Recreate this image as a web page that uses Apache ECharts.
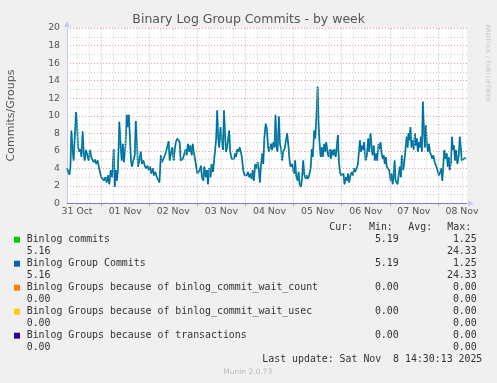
<!DOCTYPE html>
<html><head><meta charset="utf-8">
<script src="https://cdn.jsdelivr.net/npm/echarts@6/dist/echarts.min.js"></script>
<style>html,body{margin:0;padding:0;background:#f0f0f0}#c{width:497px;height:383px}</style>
</head><body><div id="c"></div><script>
// hours since 31 Oct 00:00
const hours = [
7.0,7.8,8.2,8.7,9.2,9.7,10.3,10.8,11.5,12.0,12.5,13.2,13.7,14.2,14.8,15.3,15.8,16.5,17.1,17.8,18.5,19.1,19.8,20.3,21.0,21.6,22.3,23.0,23.6,24.1,24.8,25.4,26.1,26.8,27.4,28.1,28.8,29.4,29.8,30.3,30.8,31.4,31.9,32.4,33.1,33.8,34.3,34.8,35.4,36.1,36.8,37.3,37.8,38.3,38.9,39.4,40.1,40.8,41.3,42.0,42.4,43.1,43.8,44.4,45.1,45.8,46.4,47.1,47.8,48.4,49.1,49.8,50.4,51.1,51.8,52.4,53.1,53.8,54.4,55.1,55.8,56.4,57.1,
57.7,58.2,58.8,59.5,60.2,60.7,61.3,62.0,62.7,63.2,63.7,64.3,64.8,65.5,66.2,66.7,67.3,68.0,68.5,69.2,69.7,70.2,70.7,71.3,72.0,72.7,73.2,73.8,74.3,75.0,75.5,76.2,76.8,77.3,78.0,78.6,79.1,79.8,80.3,80.9,81.4,81.9,82.4,82.9,83.6,84.1,84.8,85.3,85.8,86.3,86.9,87.4,87.9,88.4,89.1,89.6,90.3,90.8,91.3,91.9,92.6,93.1,93.7,94.2,94.9,95.6,96.1,96.7,97.2,97.9,98.4,99.1,99.6,100.2,100.9,101.6,102.1,102.7,103.2,103.7,104.4,104.9,105.4,106.1,106.7,
107.2,107.7,108.3,108.8,109.3,110.0,110.5,111.0,111.5,112.0,112.7,113.2,113.8,114.3,114.8,115.5,116.2,116.8,117.5,118.0,118.5,119.2,119.7,120.2,120.8,121.3,122.0,122.5,123.0,123.7,124.2,124.8,125.3,126.0,126.5,127.1,127.8,128.5,129.1,129.6,130.3,130.8,131.5,132.0,132.5,133.0,133.5,134.1,134.6,135.3,135.8,136.3,137.0,137.5,138.1,138.6,139.1,139.8,140.3,141.0,141.4,142.1,142.6,143.1,143.7,144.2,144.9,145.4,146.1,146.6,147.2,147.7,148.4,149.1,149.6,150.2,150.7,151.4,152.1,152.6,153.1,153.6,154.1,154.7,155.2,155.9,156.6,
157.2,157.7,158.4,158.9,159.4,160.0,160.5,161.2,161.7,162.4,162.9,163.4,163.9,164.5,165.0,165.5,166.0,166.5,167.2,167.7,168.4,168.9,169.4,169.9,170.4,170.9,171.4,171.9,172.4,173.0,173.5,174.0,174.7,175.2,175.9,176.4,176.9,177.3,177.8,178.3,178.8,179.3,180.0,180.5,181.0,181.5,182.0,182.5,183.0,183.5,184.0,184.5,185.0,185.5,186.0,186.5,187.0,187.5,188.0,188.7,189.2,189.7,190.4,190.9,191.5,192.0,192.5,193.2,193.7,194.2,194.7,195.2,195.7,196.4,196.9,197.4,197.9,198.5,199.0,199.5,200.0,200.5,201.0,201.7,202.4,202.9,203.4,203.9,204.4,204.9,205.4,205.9
];
const commits = [
4.0,4.0,3.3,4.1,8.3,6.4,4.9,7.2,10.4,9.1,6.4,5.9,6.2,5.3,8.2,5.9,4.9,6.1,5.9,4.9,6.1,5.3,5.5,4.7,5.0,4.5,4.9,4.0,3.8,3.0,3.2,2.6,3.0,2.4,3.2,2.2,3.8,3.0,4.0,6.2,1.9,3.8,2.6,3.8,9.3,6.4,4.9,6.8,4.7,6.4,10.1,8.7,10.1,8.0,4.9,4.2,4.9,5.5,9.4,6.4,4.2,4.9,5.9,4.5,4.9,4.3,4.0,4.3,3.8,4.2,3.4,4.0,3.2,3.6,3.0,2.8,2.4,5.5,4.7,4.5,5.5,5.9,5.7,
7.1,4.9,5.7,6.4,4.9,6.1,7.0,7.4,7.6,7.0,4.9,4.7,5.1,4.9,6.2,5.5,6.8,5.9,6.6,5.5,6.8,5.9,5.3,5.1,3.4,3.2,3.8,4.3,3.0,2.6,4.2,3.0,3.8,2.2,4.0,3.0,4.5,3.6,4.7,4.5,7.4,10.6,7.6,6.4,8.7,7.4,6.1,10.6,8.0,5.9,6.4,7.4,8.3,5.9,5.1,5.3,5.1,5.7,5.3,6.2,5.9,6.4,5.9,5.3,3.8,3.2,3.4,3.2,3.6,3.0,3.4,2.8,3.8,2.6,4.5,4.0,4.7,3.8,2.4,4.2,5.7,4.5,7.4,9.1,8.5,
6.6,5.9,6.4,6.8,6.1,7.0,6.4,10.1,6.4,5.9,9.9,6.8,6.2,4.9,5.9,6.2,6.1,8.0,6.4,4.9,4.2,4.5,4.0,3.4,4.9,3.2,2.6,3.6,2.2,1.9,2.8,4.9,3.4,2.8,3.2,2.8,3.2,4.0,6.2,5.3,8.3,7.4,10.3,13.3,8.9,6.8,5.3,6.4,5.3,6.8,5.9,7.0,5.7,5.3,6.2,5.1,6.1,5.5,6.2,5.3,6.1,7.8,4.9,3.6,3.2,3.0,3.4,2.2,3.0,2.6,3.4,2.4,3.2,3.6,3.2,4.0,3.6,4.0,4.5,5.9,7.2,5.9,6.6,6.1,7.0,4.9,5.5,
7.4,5.9,8.0,6.4,5.5,6.6,4.9,5.7,4.9,6.8,6.2,7.0,5.7,5.1,5.5,4.5,5.3,4.2,4.3,3.8,2.6,3.4,2.2,3.0,4.9,2.6,2.8,2.2,3.2,4.2,3.0,5.5,3.8,4.7,4.7,7.6,6.4,8.0,7.2,8.7,6.4,7.2,6.1,8.0,6.6,7.4,5.9,7.0,6.4,7.6,5.9,11.6,8.5,6.4,8.9,6.8,5.9,6.8,5.9,6.1,5.1,5.5,4.7,4.9,4.0,4.2,3.2,3.6,4.0,2.6,4.5,6.1,5.1,5.7,4.2,5.3,3.8,4.7,7.6,6.1,6.6,4.9,6.1,4.5,5.5,7.6,6.4,4.9,4.7,5.1,5.1,5.2
];
// Group commits are identical to commits in the source (same cur/min/avg/max)
const groupCommits = commits;
const zeroHours = [7.0, 206.5];
const waitCount = [0, 0];
const waitUsec = [0, 0];
const transactions = [0, 0];

const dayLabels = ['31 Oct','01 Nov','02 Nov','03 Nov','04 Nov','05 Nov','06 Nov','07 Nov','08 Nov'];
const dayLabelHours = [12,36,60,84,108,132,156,180,204];
const dayBoundaryHours = [24,48,72,96,120,144,168,192];
const sixHourHours = [12,18,30,36,42,54,60,66,78,84,90,102,108,114,126,132,138,150,156,162,174,180,186,198,204];

const legendNames = ['Binlog commits','Binlog Group Commits','Binlog Groups because of binlog_commit_wait_count','Binlog Groups because of binlog_commit_wait_usec','Binlog Groups because of transactions'];
const legendColors = ['#00CC00','#0066B3','#FF8000','#FFCC00','#330099'];
const curVals = ['5.19','5.19','0.00','0.00','0.00'];
const minVals = ['1.25','1.25','0.00','0.00','0.00'];
const avgVals = ['5.16','5.16','0.00','0.00','0.00'];
const maxVals = ['24.33','24.33','0.00','0.00','0.00'];
const headerTexts = ['Cur:','Min:','Avg:','Max:'];

const X0 = 7.0, X1 = 206.5;
const pair = (xs, ys) => xs.map((x, i) => [x, ys[i]]);
const mono = '9.9px "DejaVu Sans Mono"';
const graphics = [];
graphics.push({type:'text', x:248.7, y:20, style:{text:'Binary Log Group Commits - by week', font:'12.5px "DejaVu Sans"', fill:'#555', align:'center', verticalAlign:'middle'}});
graphics.push({type:'text', x:11, y:115.5, rotation:Math.PI/2, style:{text:'Commits/Groups', font:'11px "DejaVu Sans"', fill:'#555', align:'center', verticalAlign:'middle'}});
graphics.push({type:'text', x:488, y:63.3, rotation:-Math.PI/2, style:{text:'RRDTOOL / TOBI OETIKER', font:'6px "DejaVu Sans"', fill:'#c8c8c8', align:'center', verticalAlign:'middle'}});
const headerX = [329.3, 369, 408.3, 447.3];
headerTexts.forEach((t, i) => graphics.push({type:'text', x:headerX[i], y:227.7, style:{text:t, font:mono, fill:'#333', align:'left', verticalAlign:'middle'}}));
legendNames.forEach((n, i) => {
  const y = 239.7 + 24 * i;
  graphics.push({type:'rect', shape:{x:14, y:y - 3, width:6, height:6}, style:{fill:legendColors[i]}});
  graphics.push({type:'text', x:26.7, y:y, style:{text:n, font:mono, fill:'#333', align:'left', verticalAlign:'middle'}});
  graphics.push({type:'text', x:398.7, y:y, style:{text:curVals[i], font:mono, fill:'#333', align:'right', verticalAlign:'middle'}});
  graphics.push({type:'text', x:476.7, y:y, style:{text:minVals[i], font:mono, fill:'#333', align:'right', verticalAlign:'middle'}});
  graphics.push({type:'text', x:26.7, y:y + 12, style:{text:avgVals[i], font:mono, fill:'#333', align:'left', verticalAlign:'middle'}});
  graphics.push({type:'text', x:476.7, y:y + 12, style:{text:maxVals[i], font:mono, fill:'#333', align:'right', verticalAlign:'middle'}});
});
graphics.push({type:'text', x:482.3, y:359.7, style:{text:'Last update: Sat Nov  8 14:30:13 2025', font:mono, fill:'#333', align:'right', verticalAlign:'middle'}});
graphics.push({type:'text', x:247.8, y:372, style:{text:'Munin 2.0.73', font:'7.5px "DejaVu Sans"', fill:'#bbbbbb', align:'center', verticalAlign:'middle'}});

const gridLines = sixHourHours.map(h => ({xAxis:h, lineStyle:{color:'#cfcfcf', type:[1,2], width:1}}))
  .concat(dayBoundaryHours.map(h => ({xAxis:h, lineStyle:{color:'#e59d9d', type:[1,2], width:1}})));

const chart = echarts.init(document.getElementById('c'), null, {renderer:'canvas'});
chart.setOption({
  animation:false,
  backgroundColor:'#f0f0f0',
  grid:{left:67, top:28, width:400, height:175.5, show:true, backgroundColor:'#ffffff', borderWidth:0, containLabel:false},
  xAxis:{type:'value', min:X0, max:X1,
    axisLine:{show:true, onZero:false, lineStyle:{color:'#c8c8f5', width:1}, symbol:['none','triangle'], symbolSize:[6,6], symbolOffset:[0,4]},
    axisTick:{show:true, customValues:dayBoundaryHours, length:3, inside:false, lineStyle:{color:'#e59d9d'}},
    axisLabel:{show:true, customValues:dayLabelHours, formatter:v => dayLabels[dayLabelHours.indexOf(v)] || '', color:'#555', fontFamily:'DejaVu Sans', fontSize:9.33, margin:4, hideOverlap:false},
    splitLine:{show:false}},
  yAxis:{type:'value', min:0, max:20, interval:2,
    axisLine:{show:true, lineStyle:{color:'#c8c8f5', width:1}, symbol:['none','triangle'], symbolSize:[6,6], symbolOffset:[0,4]},
    axisTick:{show:false},
    axisLabel:{color:'#555', fontFamily:'DejaVu Sans', fontSize:9.33, margin:7},
    splitLine:{show:true, showMinLine:false, lineStyle:{color:'#e59d9d', type:[1,2], width:1}},
    minorTick:{show:false, splitNumber:2},
    minorSplitLine:{show:true, lineStyle:{color:'#cfcfcf', type:[1,2], width:1}}},
  graphic:graphics,
  series:[
    {type:'line', name:'grid', data:[[X0, 0]], symbol:'none', lineStyle:{width:0, opacity:0}, silent:true, z:1,
      markLine:{silent:true, symbol:['none','none'], label:{show:false}, animation:false, data:gridLines}},
    {type:'line', name:legendNames[0], data:pair(hours, commits), symbol:'none', showSymbol:false, lineStyle:{color:'#2fa894', width:1.9}, z:3},
    {type:'line', name:legendNames[1], data:pair(hours, groupCommits), symbol:'none', showSymbol:false, lineStyle:{color:'#0066B3', width:1}, z:4},
    {type:'line', name:legendNames[2], data:pair(zeroHours, waitCount), symbol:'none', clip:false, lineStyle:{color:legendColors[2], width:1}, z:5},
    {type:'line', name:legendNames[3], data:pair(zeroHours, waitUsec), symbol:'none', clip:false, lineStyle:{color:legendColors[3], width:1}, z:6},
    {type:'line', name:legendNames[4], data:pair(zeroHours, transactions), symbol:'none', clip:false, lineStyle:{color:'#7a7ad6', width:1}, z:10}
  ]
});
</script></body></html>
